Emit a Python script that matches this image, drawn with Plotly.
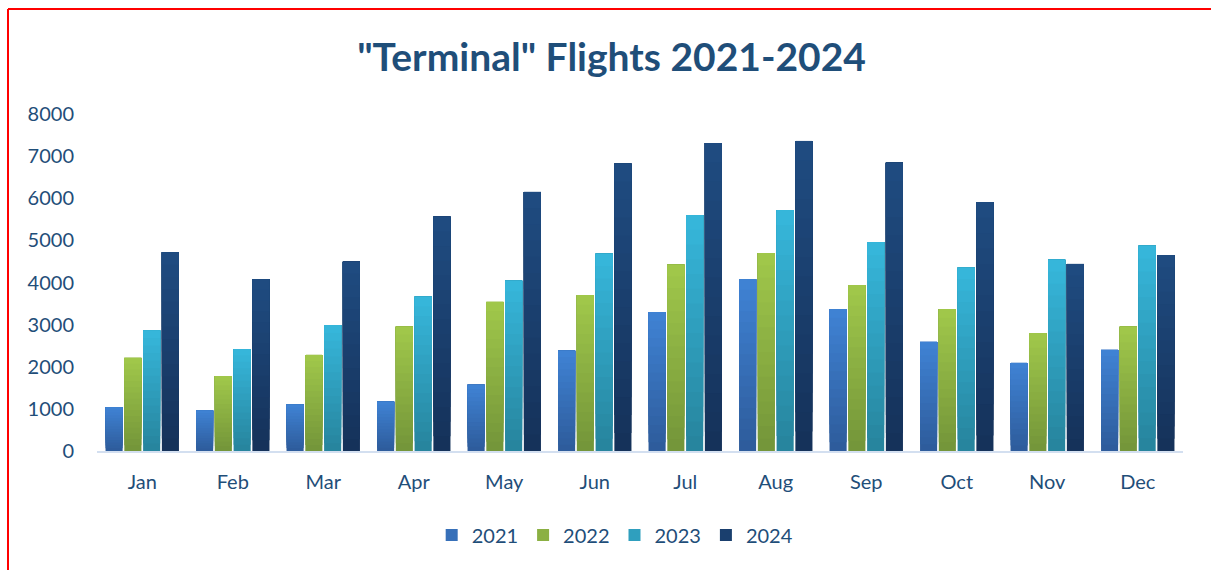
import plotly.graph_objects as go

months = ["Jan", "Feb", "Mar", "Apr", "May", "Jun", "Jul", "Aug", "Sep", "Oct", "Nov", "Dec"]
years = ["2021", "2022", "2023", "2024"]
v2021 = [1040, 960, 1100, 1170, 1570, 2380, 3300, 4080, 3370, 2590, 2090, 2400]
v2022 = [2210, 1780, 2280, 2950, 3540, 3700, 4420, 4700, 3940, 3370, 2800, 2950]
v2023 = [2860, 2420, 2990, 3660, 4040, 4680, 5600, 5720, 4960, 4350, 4540, 4870]
v2024 = [4720, 4080, 4490, 5560, 6150, 6820, 7310, 7360, 6840, 5910, 4440, 4650]
series = [v2021, v2022, v2023, v2024]
y_ticks = [0, 1000, 2000, 3000, 4000, 5000, 6000, 7000, 8000]

# gradient (top colour, bottom colour) per series
grad = [("#3F82D3", "#2E5C9C"), ("#A0C74A", "#74963A"), ("#36B6DA", "#27859E"), ("#1F4B80", "#15325A")]
text_col = "#1F4E79"
N = 16


def hex2rgb(h):
    h = h.lstrip("#")
    return tuple(int(h[i:i + 2], 16) for i in (0, 2, 4))


def mix(c1, c2, t):
    a, b = hex2rgb(c1), hex2rgb(c2)
    return "rgb(%d,%d,%d)" % tuple(round(a[i] + (b[i] - a[i]) * t) for i in range(3))


fig = go.Figure()
for s, (name, vals) in enumerate(zip(years, series)):
    top, bot = grad[s]
    for k in range(N):
        t = k / (N - 1)
        # each layer runs from k/N of the value up to the full value; later (lighter) layers cover earlier ones
        fig.add_trace(go.Bar(
            x=months,
            y=[v * (N - k) / N for v in vals],
            base=[v * k / N for v in vals],
            name=name,
            legendgroup=name,
            showlegend=(k == N // 2),
            offsetgroup=name,
            marker=dict(color=mix(bot, top, t), line=dict(width=0)),
            hovertemplate="%{x} " + name + ": %{customdata}<extra></extra>",
            customdata=vals,
        ))

# red frame lines at top and left of the page
fig.add_shape(type="line", xref="paper", yref="paper", x0=(8 - 97) / 1086, x1=1.2,
              y0=1 + (114 - 9) / 337, y1=1 + (114 - 9) / 337,
              line=dict(color="#FF0000", width=2))
fig.add_shape(type="line", xref="paper", yref="paper", x0=(8 - 97) / 1086, x1=(8 - 97) / 1086,
              y0=1 + (114 - 9) / 337, y1=-0.5,
              line=dict(color="#FF0000", width=2))

fig.update_layout(
    width=1211, height=570,
    margin=dict(l=97, r=28, t=114, b=119),
    paper_bgcolor="white", plot_bgcolor="white",
    font=dict(family="Lato, 'Open Sans', sans-serif", color=text_col, size=20),
    title=dict(text='"Terminal" Flights 2021-2024', x=0.505, xanchor="center",
               y=1 - 57 / 570, yanchor="middle", xref="container", yref="container",
               font=dict(size=39, color=text_col, family="Lato, 'Open Sans', sans-serif", weight="bold")),
    barmode="group", bargap=0.17, bargroupgap=0.09,
    showlegend=True,
    legend=dict(orientation="h", x=0.508, xanchor="center", y=1 - 535 / 570, yanchor="middle",
                xref="container", yref="container", font=dict(size=20, color=text_col),
                traceorder="normal", itemclick=False),
    xaxis=dict(showgrid=False, showline=True, linecolor="#D3DFF0", linewidth=2,
               ticks="", ticklabelstandoff=12, tickfont=dict(size=20, color=text_col)),
    yaxis=dict(range=[0, 8000], tickvals=y_ticks, showgrid=False, zeroline=False,
               showline=False, ticks="", ticklabelstandoff=22,
               tickfont=dict(size=20, color=text_col)),
)

fig.write_html("out.html")
